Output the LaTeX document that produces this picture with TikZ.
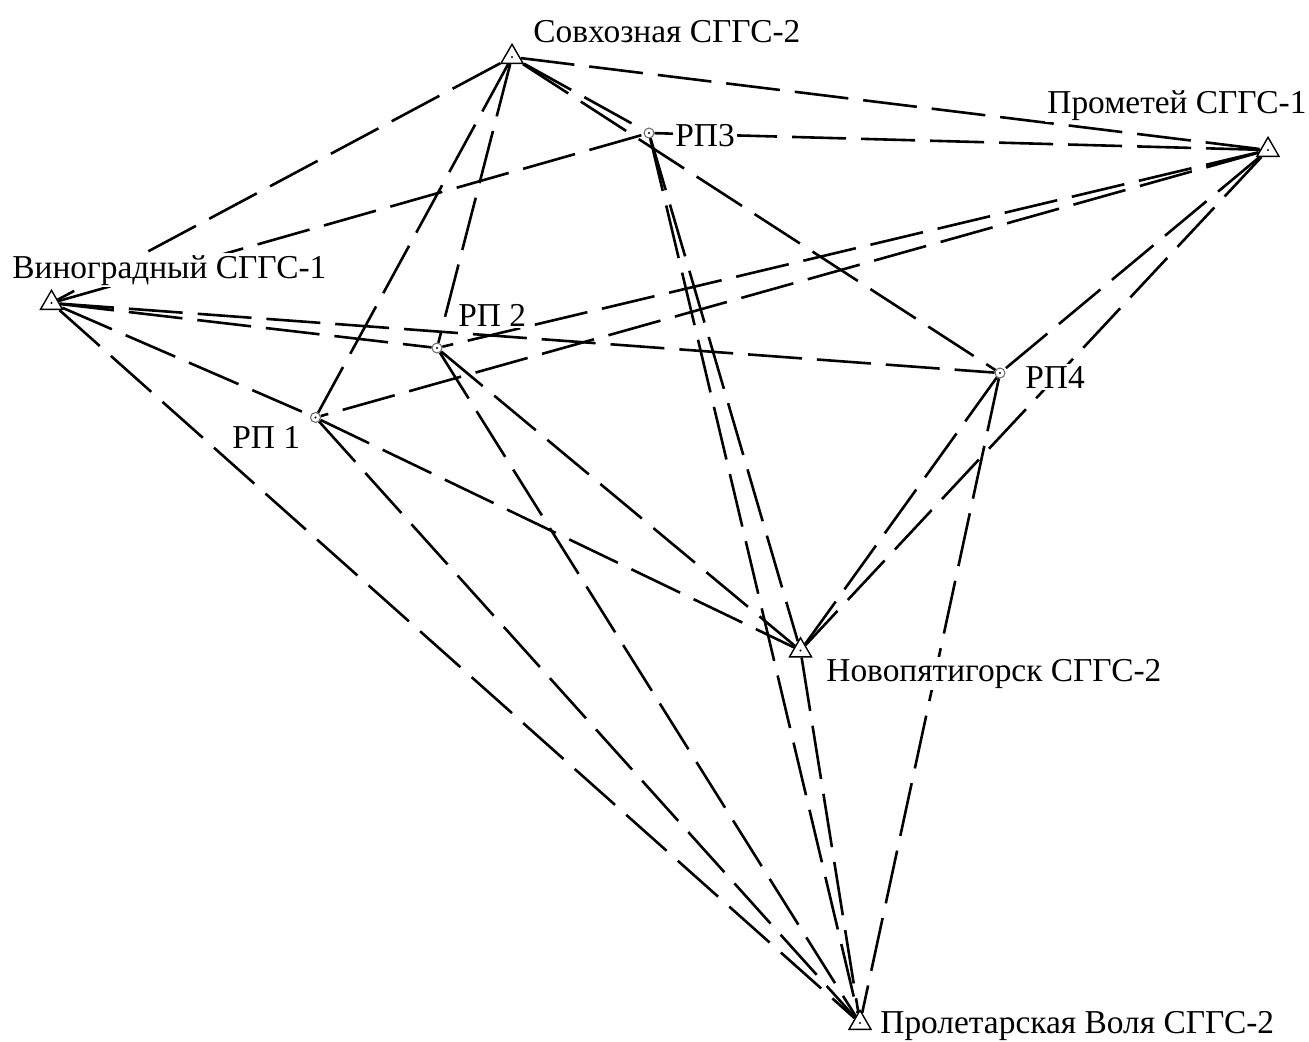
\documentclass[tikz,border=0pt]{standalone}
\usepackage{fontspec}
\setmainfont{Liberation Serif}
\usetikzlibrary{shapes.geometric}

\tikzset{
    link/.style={line width=1.3pt, dash pattern=on 27pt off 7.5pt},
    gpoint/.style={regular polygon, regular polygon sides=3, draw, fill=white,
        line width=0.7pt, inner sep=0pt, minimum size=12.7pt},
    rpoint/.style={circle, draw=black!60, fill=white, line width=0.5pt,
        inner sep=0pt, minimum size=5pt},
    lbl/.style={anchor=base west, fill=white, inner sep=1pt,
        font=\fontsize{16.7}{20}\selectfont}
}

\begin{document}
\begin{tikzpicture}[x=0.5pt, y=-0.5pt]
    \useasboundingbox (0,0) rectangle (1309,1041);

    % state network points
    \node[gpoint] (S) at (512,57) {};
    \node[gpoint] (P) at (1268,150) {};
    \node[gpoint] (V) at (51.5,303) {};
    \node[gpoint] (N) at (800.5,650.5) {};
    \node[gpoint] (L) at (860,1023) {};

    % working points
    \node[rpoint] (RP1) at (315.5,417.5) {};
    \node[rpoint] (RP2) at (437,348) {};
    \node[rpoint] (RP3) at (649,133) {};
    \node[rpoint] (RP4) at (1000,373) {};

    \draw[link] (S) -- (V);
    \draw[link] (S) -- (RP1);
    \draw[link] (S) -- (RP2);
    \draw[link] (S) -- (RP3);
    \draw[link] (S) -- (RP4);
    \draw[link] (S) -- (P);

    \draw[link] (P) -- (RP3);
    \draw[link] (P) -- (RP2);
    \draw[link] (P) -- (RP1);
    \draw[link] (P) -- (RP4);
    \draw[link] (P) -- (N);

    \draw[link] (V) -- (RP3);
    \draw[link] (V) -- (RP2);
    \draw[link] (V) -- (RP4);
    \draw[link] (V) -- (RP1);
    \draw[link] (V) -- (L);

    \draw[link] (RP1) -- (N);
    \draw[link] (RP1) -- (L);
    \draw[link] (RP2) -- (N);
    \draw[link] (RP2) -- (L);
    \draw[link] (RP3) -- (N);
    \draw[link] (RP3) -- (L);
    \draw[link] (RP4) -- (N);
    \draw[link] (RP4) -- (L);
    \draw[link] (N) -- (L);

    \foreach \p in {S,P,V,N,L,RP1,RP2,RP3,RP4}
        \fill (\p.center) circle (0.6pt);

    \node[lbl] (SLabel) at (531,42) {Совхозная СГГС-2};
    \node[lbl] (PLabel) at (1045,113) {Прометей СГГС-1};
    \node[lbl] (VLabel) at (10,278) {Виноградный СГГС-1};
    \node[lbl] (NLabel) at (824,681) {Новопятигорск СГГС-2};
    \node[lbl] (LLabel) at (878,1033) {Пролетарская Воля СГГС-2};
    \node[lbl] (RP1Label) at (230,448) {РП 1};
    \node[lbl] (RP2Label) at (456,326) {РП 2};
    \node[lbl] (RP3Label) at (673,146) {РП3};
    \node[lbl] (RP4Label) at (1023,388) {РП4};
\end{tikzpicture}
\end{document}
